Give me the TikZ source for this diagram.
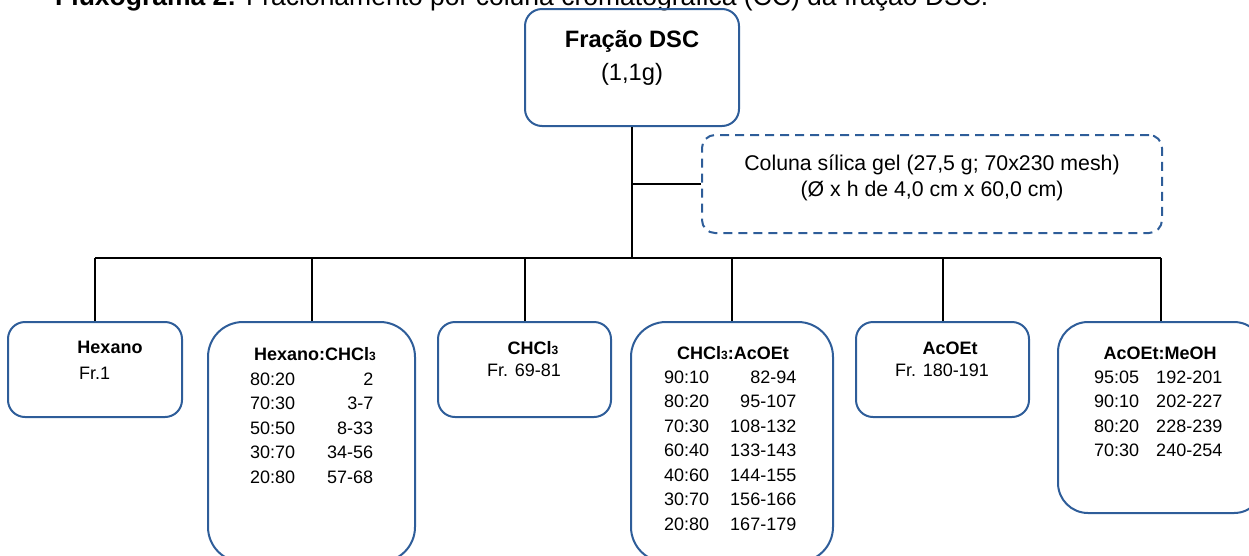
\documentclass[tikz,border=0pt]{standalone}
\usepackage{fontspec}
\setmainfont{Liberation Sans}
\usepackage{tikz}
\usetikzlibrary{positioning}
\definecolor{boxblue}{RGB}{46,93,153}
\tikzstyle{round-box} = [rectangle, draw=boxblue, line width=2pt, rounded corners=17pt, inner sep=0pt]
\tikzstyle{tall-box} = [round-box, rounded corners=35pt]
\tikzstyle{dash-box} = [round-box, dash pattern=on 9pt off 6pt, rounded corners=13pt]
\tikzstyle{line} = [line width=2pt]
\tikzstyle{txt} = [inner sep=0pt, anchor=base]
\newcommand{\titlesize}{\fontsize{26.5}{30}\selectfont}
\newcommand{\topsize}{\fontsize{23.7}{28}\selectfont}
\newcommand{\notesize}{\fontsize{21.3}{26}\selectfont}
\newcommand{\boxsize}{\fontsize{18}{24.5}\selectfont}
\newcommand{\three}{{\fontsize{12}{12}\selectfont 3}}

\begin{document}
\begin{tikzpicture}[x=1pt,y=-1pt]
        \useasboundingbox (0,0) rectangle (1249,555);
        \node [txt, anchor=base west] (titulo) at (55,5.5) {\titlesize\textbf{Fluxograma 2:} Fracionamento por coluna cromatográfica (CC) da fração DSC.};

        % boxes
        \node [round-box, minimum width=214pt, minimum height=117pt] (fracao) at (632,67.5) {};
        \node [dash-box, minimum width=460pt, minimum height=98pt] (coluna) at (932,184) {};
        \node [round-box, minimum width=174pt, minimum height=95pt] (hexano) at (95,369.5) {};
        \node [tall-box, minimum width=207pt, minimum height=240pt] (hexclo) at (311.5,442) {};
        \node [round-box, minimum width=173pt, minimum height=95pt] (clorof) at (524.5,369.5) {};
        \node [tall-box, minimum width=202pt, minimum height=240pt] (cloace) at (732,442) {};
        \node [round-box, minimum width=173pt, minimum height=95pt] (acoet) at (942.5,369.5) {};
        \node [tall-box, rounded corners=30pt, minimum width=206pt, minimum height=191pt] (acomet) at (1161,417.5) {};

        % texts
        \node [txt] (fracao-t) at (632,47) {\topsize\textbf{Fração DSC}};
        \node [txt] (fracao-m) at (632,80) {\topsize(1,1g)};
        \node [txt] (coluna-t) at (932,170) {\notesize Coluna sílica gel (27,5 g; 70x230 mesh)};
        \node [txt] (coluna-d) at (932,196) {\notesize(Ø x h de 4,0 cm x 60,0 cm)};

        \node [txt] (hexano-t) at (110,353) {\boxsize\textbf{Hexano}};
        \node [txt, anchor=base west] (hexano-f) at (79,379) {\boxsize Fr.1};

        \node [txt] (hexclo-t) at (315,360) {\boxsize\textbf{Hexano:CHCl\three}};
        \node [txt, anchor=base west] (hexclo-f) at (250,385) {\boxsize
            \begin{tabular}[t]{@{}l@{\hspace{32pt}}r@{}}
            80:20 & 2\\ 70:30 & 3-7\\ 50:50 & 8-33\\ 30:70 & 34-56\\ 20:80 & 57-68
            \end{tabular}};

        \node [txt] (clorof-t) at (533,354) {\boxsize\textbf{CHCl\three}};
        \node [txt] (clorof-f) at (524,376) {\boxsize Fr. 69-81};

        \node [txt] (cloace-t) at (733,359) {\boxsize\textbf{CHCl\three:AcOEt}};
        \node [txt, anchor=base west] (cloace-f) at (664,383) {\boxsize
            \begin{tabular}[t]{@{}l@{\hspace{21pt}}r@{}}
            90:10 & 82-94\\ 80:20 & 95-107\\ 70:30 & 108-132\\ 60:40 & 133-143\\
            40:60 & 144-155\\ 30:70 & 156-166\\ 20:80 & 167-179
            \end{tabular}};

        \node [txt] (acoet-t) at (950,354) {\boxsize\textbf{AcOEt}};
        \node [txt] (acoet-f) at (942,376) {\boxsize Fr. 180-191};

        \node [txt] (acomet-t) at (1160,359) {\boxsize\textbf{AcOEt:MeOH}};
        \node [txt, anchor=base west] (acomet-f) at (1094,383) {\boxsize
            \begin{tabular}[t]{@{}l@{\hspace{17pt}}r@{}}
            95:05 & 192-201\\ 90:10 & 202-227\\ 80:20 & 228-239\\ 70:30 & 240-254
            \end{tabular}};

        % tree lines
        \coordinate (bus) at (632,258);
        \draw [line] (fracao.south) -- (bus);
        \draw [line] (fracao.south |- coluna.west) -- (coluna.west);
        \draw [line] (hexano.north |- bus) -- (acomet.north |- bus);
        \draw [line] (hexano.north |- bus) -- (hexano.north);
        \draw [line] (hexclo.north |- bus) -- (hexclo.north);
        \draw [line] (clorof.north |- bus) -- (clorof.north);
        \draw [line] (cloace.north |- bus) -- (cloace.north);
        \draw [line] (acoet.north |- bus) -- (acoet.north);
        \draw [line] (acomet.north |- bus) -- (acomet.north);
\end{tikzpicture}
\end{document}
